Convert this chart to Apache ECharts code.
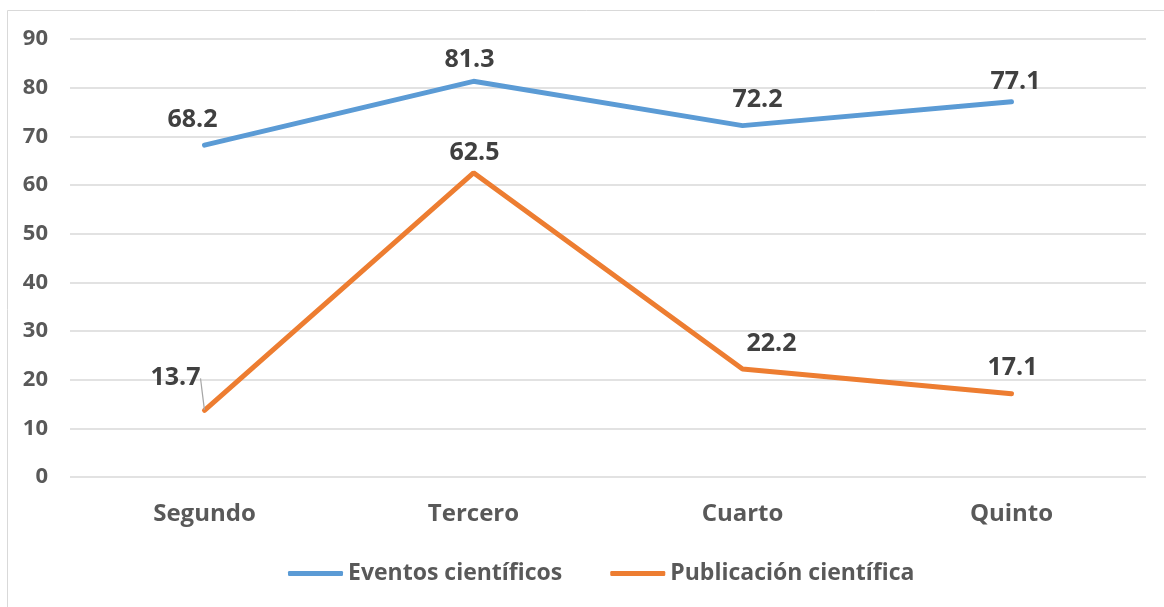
<!DOCTYPE html>
<html>
<head>
<meta charset="utf-8">
<script src="https://cdn.jsdelivr.net/npm/echarts@6/dist/echarts.min.js"></script>
<style>
  html, body { margin: 0; padding: 0; background: #fff; }
  #chart { width: 1164px; height: 607px; }
</style>
</head>
<body>
<div id="chart"></div>
<script>
var categories = ['Segundo', 'Tercero', 'Cuarto', 'Quinto']
var eventos = [68.2, 81.3, 72.2, 77.1]
var publicacion = [13.7, 62.5, 22.2, 17.1]

// label nudges (dx, dy) so they sit where the original put them
var eventosOffsets = [[-12, -7], [-4, -3], [15, -8], [4, -2]]
var publicacionOffsets = [[-29, -14], [1, -2], [29, -7], [1, -8]]

var font = '"Open Sans", sans-serif'

function layoutFrom(offsets) {
  return function (params) {
    var o = offsets[params.dataIndex]
    return { dx: o[0], dy: o[1] }
  }
}

var chart = echarts.init(document.getElementById('chart'))
chart.setOption({
  animation: false,
  textStyle: { fontFamily: font },
  graphic: [{
    type: 'rect',
    shape: { x: 7.5, y: 10.5, width: 1170, height: 610 },
    style: { fill: 'none', stroke: '#d9d9d9', lineWidth: 1 },
    silent: true
  }],
  grid: { left: 70, right: 18, top: 39, bottom: 130 },
  legend: {
    bottom: 17,
    left: 283,
    itemWidth: 55,
    itemHeight: 5,
    itemGap: 48,
    icon: 'roundRect',
    textStyle: { fontSize: 23, fontWeight: 'bold', color: '#595959', fontFamily: font }
  },
  xAxis: {
    type: 'category',
    data: categories,
    boundaryGap: true,
    axisLine: { show: false },
    axisTick: { show: false },
    axisLabel: { fontSize: 24, fontWeight: 'bold', color: '#595959', margin: 25, fontFamily: font }
  },
  yAxis: {
    type: 'value',
    min: 0,
    max: 90,
    interval: 10,
    axisLine: { show: false },
    axisTick: { show: false },
    axisLabel: { fontSize: 22, fontWeight: 'bold', color: '#595959', margin: 22, fontFamily: font },
    splitLine: { lineStyle: { color: '#d9d9d9', width: 1.5 } }
  },
  series: [
    {
      name: 'Eventos científicos',
      type: 'line',
      data: eventos,
      symbol: 'circle',
      symbolSize: 1,
      color: '#5b9bd5',
      lineStyle: { width: 5, color: '#5b9bd5', cap: 'round' },
      label: { show: true, position: 'top', fontSize: 25, fontWeight: 'bold', color: '#404040', fontFamily: font },
      labelLayout: layoutFrom(eventosOffsets)
    },
    {
      name: 'Publicación científica',
      type: 'line',
      data: [
        { value: publicacion[0], labelLine: { show: true, lineStyle: { color: '#a6a6a6', width: 1.2 } } },
        publicacion[1], publicacion[2], publicacion[3]
      ],
      symbol: 'circle',
      symbolSize: 1,
      color: '#ed7d31',
      lineStyle: { width: 5, color: '#ed7d31', cap: 'round' },
      label: { show: true, position: 'top', fontSize: 25, fontWeight: 'bold', color: '#404040', fontFamily: font },
      labelLine: { show: false },
      labelLayout: layoutFrom(publicacionOffsets)
    }
  ]
})
</script>
</body>
</html>
